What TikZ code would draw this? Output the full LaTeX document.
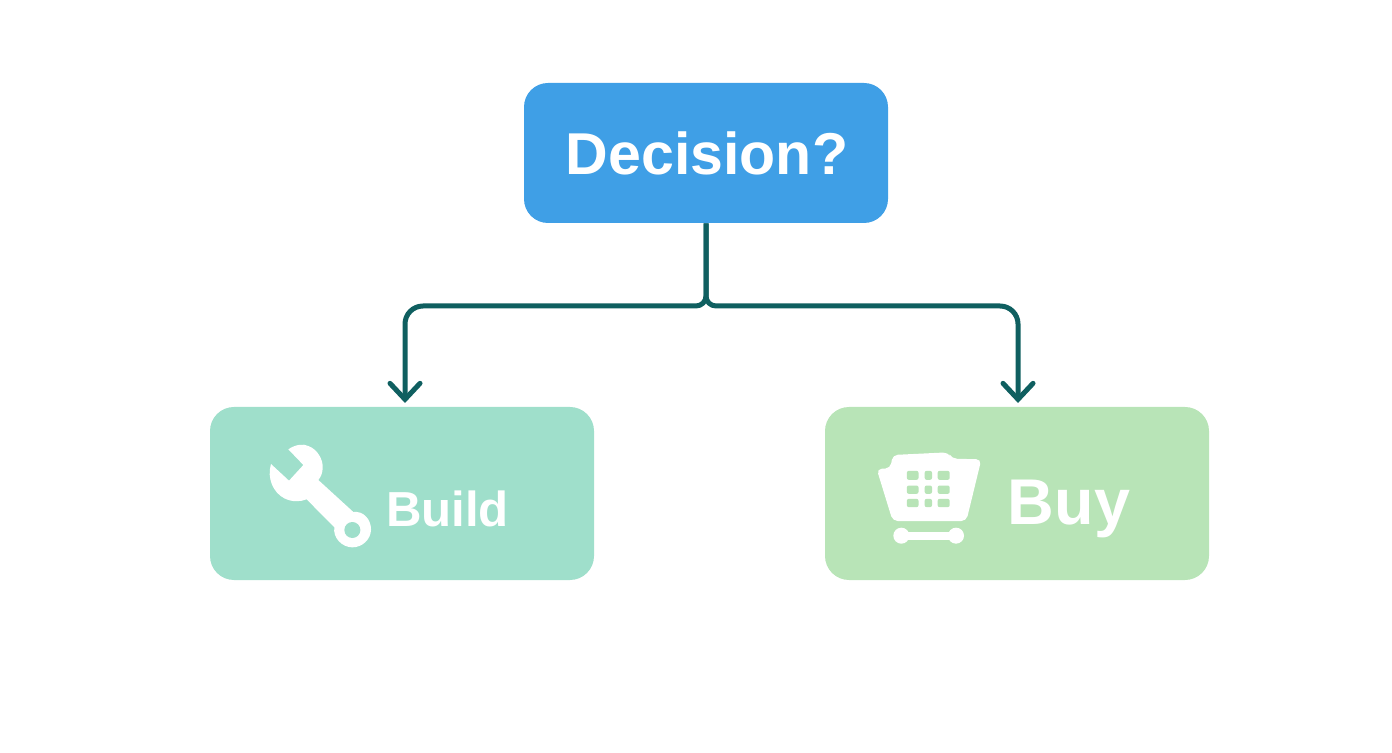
\documentclass[tikz,border=0pt]{standalone}
\usepackage{fontspec}
\setmainfont{Liberation Sans}
\usetikzlibrary{arrows.meta}
\definecolor{decfill}{HTML}{3F9FE6}
\definecolor{buildfill}{HTML}{9FDFCB}
\definecolor{buyfill}{HTML}{B8E4B7}
\definecolor{linkcol}{HTML}{0F5F60}
\tikzset{
	box/.style={rectangle,rounded corners=.48cm,minimum width=7.68cm,minimum height=3.46cm,inner sep=0pt},
	label/.style={text=white,font=\bfseries,anchor=base,inner sep=0pt},
	link/.style={draw=linkcol,line width=.1cm,-{Straight Barb[length=.32cm,width=.6cm,line cap=round]}},
}
\begin{document}
\begin{tikzpicture}
	\useasboundingbox(0,0)rectangle(27.84,15.04);
	% boxes
	\node[box,fill=decfill,minimum width=7.28cm,minimum height=2.8cm](dec)at(14.12,11.98){};
	\node[box,fill=buildfill](build)at(8.04,5.17){};
	\node[box,fill=buyfill](buy)at(20.34,5.17){};
	% texts
	\node[label](dectxt)at(14.14,11.54){\fontsize{33.6}{36}\selectfont Decision?};
	\node[label](buildtxt)at(8.95,4.5){\fontsize{28}{32}\selectfont Build};
	\node[label](buytxt)at(21.38,4.56){\fontsize{36.8}{40}\selectfont Buy};
	% connectors
	\coordinate(fork)at(14.12,8.92);
	\coordinate(buildin)at(8.1,6.98);
	\coordinate(buyin)at(20.36,6.98);
	\draw[link](dec.south)[rounded corners=.2cm]--(fork)[rounded corners=.36cm]--(buildin|-fork)--(buildin);
	\draw[link](dec.south)[rounded corners=.2cm]--(fork)[rounded corners=.36cm]--(buyin|-fork)--(buyin);
	% wrench
	\begin{scope}[shift={(5.3,6.24)},x=.00667cm,y=-.00667cm]
		\fill[white](70,28)..controls(90,14)and(115,10)..(130,18)..controls(158,28)and(175,60)..(173,85)
			..controls(172,100)and(168,110)..(160,120)--(265,216)..controls(295,212)and(318,238)..(318,268)
			..controls(318,298)and(292,322)..(262,322)..controls(230,322)and(203,292)..(208,262)--(125,178)
			..controls(105,186)and(80,186)..(58,175)..controls(25,158)and(5,115)..(18,72)
			--(72,122)--(115,75)--cycle;
		\fill[buildfill](262,270)circle(24);
	\end{scope}
	% cart
	\begin{scope}[shift={(17.44,6.14)},x=.00667cm,y=-.00667cm]
		\fill[white,rounded corners=.1cm](55,70)--(62,30)--(228,22)--(240,41)--(328,43)--(283,228)--(62,228)--(14,72)--cycle;
		\foreach \cx/\cw in {122/35,169/22,215/36}
			\foreach \cy/\ch in {91/27,134/25,174/25}
				\fill[buyfill,rounded corners=.04cm](\cx-\cw/2,\cy-\ch/2)rectangle(\cx+\cw/2,\cy+\ch/2);
		\fill[white](88,272)circle(24);
		\fill[white](252,272)circle(24);
		\fill[white](88,260)rectangle(252,284);
	\end{scope}
\end{tikzpicture}
\end{document}
